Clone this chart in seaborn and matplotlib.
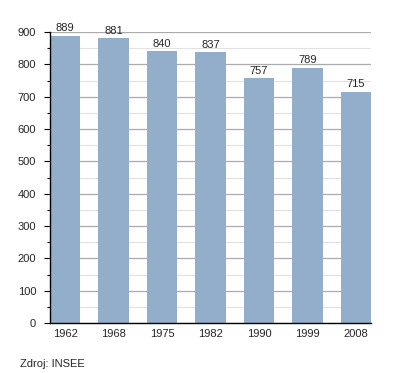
import matplotlib
matplotlib.use("Agg")
import matplotlib.pyplot as plt
import seaborn as sns
import pandas as pd
from matplotlib.ticker import MultipleLocator

years = ["1962", "1968", "1975", "1982", "1990", "1999", "2008"]
population = [889, 881, 840, 837, 757, 789, 715]
source_text = "Zdroj: INSEE"

sns.set_style("white")
plt.rcParams['font.family'] = ['Liberation Sans', 'DejaVu Sans']

df = pd.DataFrame({"year": years, "pop": population})

fig = plt.figure(figsize=(4.0, 3.73), dpi=100)
ax = fig.add_axes([0.125, 0.134, 0.8025, 0.78])

sns.barplot(data=df, x="year", y="pop", color="#93AECB", saturation=1,
            width=0.62, ax=ax, edgecolor="none")
for p in ax.patches:
    p.set_zorder(3)

ax.set_ylim(0, 900)
ax.set_xlim(-0.31, 6.31)
ax.yaxis.set_major_locator(MultipleLocator(100))
ax.yaxis.set_minor_locator(MultipleLocator(50))
ax.grid(axis="y", which="major", color="#ababab", linewidth=0.9, zorder=0)
ax.grid(axis="y", which="minor", color="#e2e2e2", linewidth=0.8, zorder=0)
ax.set_axisbelow(True)

for s in ["top", "right"]:
    ax.spines[s].set_visible(False)
for s in ["left", "bottom"]:
    ax.spines[s].set_color("black")
    ax.spines[s].set_linewidth(1.0)
    ax.spines[s].set_zorder(4)

ax.tick_params(axis="y", which="major", left=True, length=4, width=0.8, labelsize=8, pad=6, color="black")
ax.tick_params(axis="y", which="minor", left=True, length=2, width=0.8, color="black")
ax.tick_params(axis="x", bottom=False, length=0, labelsize=8, pad=4)
ax.set_xlabel("")
ax.set_ylabel("")

for i, v in enumerate(population):
    ax.text(i, v + 8, str(v), ha="center", va="bottom", fontsize=8)

fig.text(0.05, 0.012, source_text, fontsize=8, ha="left", va="bottom")

fig.savefig("out.png", dpi=100)
